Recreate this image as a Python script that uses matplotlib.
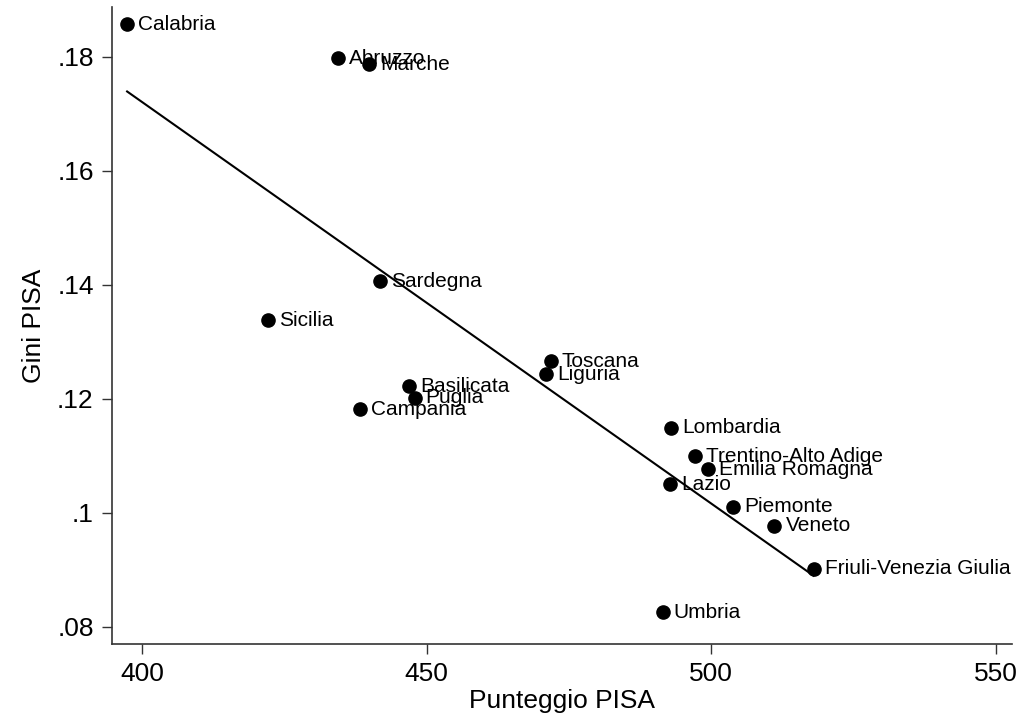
import matplotlib
matplotlib.use('Agg')
import matplotlib.pyplot as plt
import numpy as np
from matplotlib.ticker import FuncFormatter

# Regional PISA score vs. within-region Gini of PISA scores
regions = ['Calabria', 'Abruzzo', 'Marche', 'Sardegna', 'Sicilia', 'Toscana',
           'Liguria', 'Basilicata', 'Puglia', 'Campania', 'Lombardia',
           'Trentino-Alto Adige', 'Emilia Romagna', 'Lazio', 'Piemonte',
           'Veneto', 'Friuli-Venezia Giulia', 'Umbria']
pisa = [397.4, 434.4, 439.9, 441.9, 422.1, 471.8,
        471.0, 446.9, 447.9, 438.3, 492.9,
        497.2, 499.5, 492.8, 503.9,
        511.1, 518.0, 491.5]
gini = [0.1857, 0.1797, 0.1787, 0.1406, 0.1338, 0.1266,
        0.1243, 0.1222, 0.1202, 0.1182, 0.1149,
        0.1099, 0.1076, 0.1050, 0.1011,
        0.0977, 0.0902, 0.0826]

x_ticks = [400, 450, 500, 550]
y_ticks = [0.08, 0.10, 0.12, 0.14, 0.16, 0.18]

plt.rcParams['font.family'] = ['Liberation Sans', 'DejaVu Sans']

fig = plt.figure(figsize=(10.27, 7.23), dpi=100)
ax = fig.add_axes([0.1088, 0.1093, 0.8763, 0.881])

x = np.array(pisa)
y = np.array(gini)

# linear fit over the observed range
slope, intercept = np.polyfit(x, y, 1)
xs = np.array([x.min(), x.max()])
ax.plot(xs, intercept + slope * xs, color='black', lw=1.5, zorder=2)

ax.plot(x, y, 'o', color='black', markersize=9.5, zorder=3)
for name, xi, yi in zip(regions, x, y):
    ax.annotate(name, (xi, yi), xytext=(8, 0), textcoords='offset points',
                ha='left', va='center', fontsize=15, zorder=4)

ax.set_xlim(394.7, 552.8)
ax.set_ylim(0.0770, 0.1887)
ax.set_xticks(x_ticks)
ax.set_yticks(y_ticks)
ax.yaxis.set_major_formatter(FuncFormatter(
    lambda v, p: ('%g' % round(v, 2)).lstrip('0')))

for side in ['top', 'right']:
    ax.spines[side].set_visible(False)
for side in ['left', 'bottom']:
    ax.spines[side].set_color('#333333')
    ax.spines[side].set_linewidth(1.2)

ax.tick_params(axis='both', direction='out', length=7, width=1.0,
               color='#333333', labelsize=19, pad=6)
ax.tick_params(axis='y', labelrotation=0)

ax.set_xlabel('Punteggio PISA', fontsize=19, labelpad=2)
ax.set_ylabel('Gini PISA', fontsize=19, labelpad=8)

plt.savefig('out.png', dpi=100)
plt.close()
